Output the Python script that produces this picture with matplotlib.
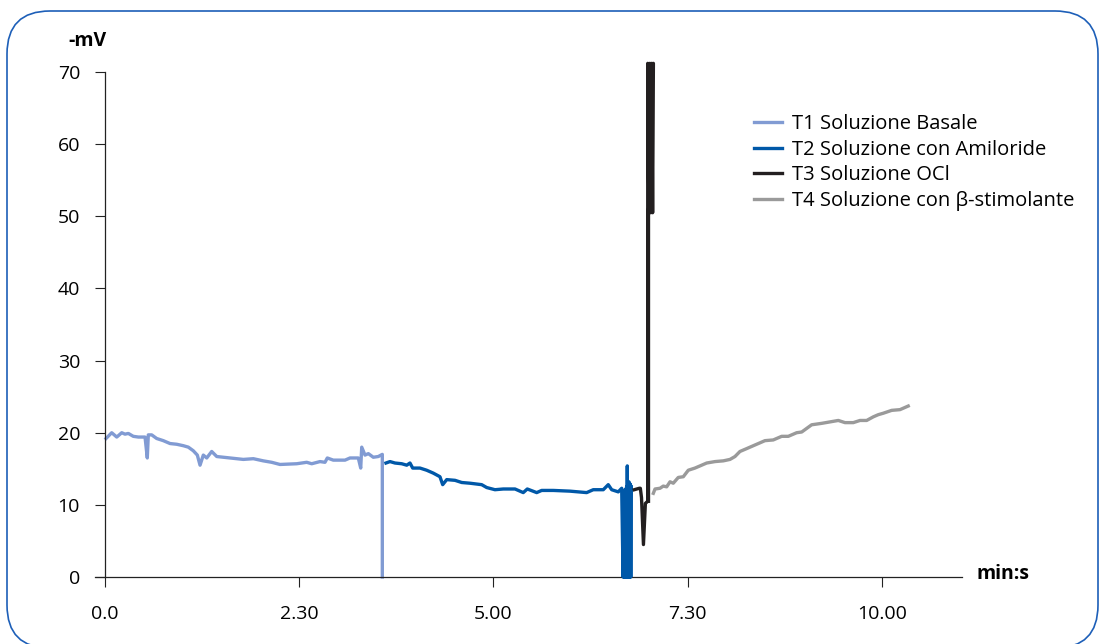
import matplotlib
matplotlib.use("Agg")
import matplotlib.pyplot as plt
from matplotlib.patches import FancyBboxPatch
from matplotlib.transforms import IdentityTransform

# ---------- data (time in minutes, potential in -mV) ----------
t1_x = [0.013, 0.086, 0.151, 0.215, 0.257, 0.300, 0.364, 0.429, 0.515, 0.544,
        0.557, 0.601, 0.665, 0.750, 0.837, 0.923, 1.008, 1.072, 1.136, 1.188,
        1.223, 1.265, 1.309, 1.373, 1.438, 1.609, 1.780, 1.909, 2.037, 2.145,
        2.252, 2.467, 2.596, 2.660, 2.767, 2.831, 2.861, 2.938, 3.089, 3.153,
        3.260, 3.291, 3.304, 3.346, 3.389, 3.453, 3.517, 3.569, 3.569]
t1_y = [19.2, 20.0, 19.4, 20.0, 19.8, 19.9, 19.5, 19.4, 19.4, 16.5,
        19.7, 19.7, 19.2, 18.9, 18.5, 18.4, 18.2, 18.0, 17.5, 16.9,
        15.5, 16.9, 16.5, 17.4, 16.7, 16.5, 16.3, 16.4, 16.1, 15.9,
        15.6, 15.7, 15.9, 15.7, 16.0, 15.9, 16.5, 16.2, 16.2, 16.5,
        16.5, 15.1, 18.0, 16.9, 17.1, 16.6, 16.7, 17.0, 0.0]

t2_x = [3.616, 3.668, 3.732, 3.819, 3.883, 3.925, 3.960, 4.054, 4.140, 4.225,
        4.311, 4.346, 4.398, 4.505, 4.591, 4.698, 4.848, 4.913, 5.019, 5.126,
        5.277, 5.383, 5.435, 5.556, 5.620, 5.770, 5.985, 6.199, 6.284, 6.413,
        6.477, 6.521, 6.606, 6.650,
        6.668, 6.673, 6.678, 6.683, 6.688, 6.693, 6.698, 6.703, 6.708, 6.713,
        6.717, 6.722, 6.727, 6.732, 6.737, 6.742, 6.747, 6.752, 6.757, 6.762,
        6.767, 6.773]
t2_y = [15.8, 16.0, 15.8, 15.7, 15.5, 15.8, 15.1, 15.1, 14.8, 14.4,
        13.9, 12.8, 13.5, 13.4, 13.1, 13.0, 12.8, 12.4, 12.1, 12.2,
        12.2, 11.7, 12.2, 11.7, 12.0, 12.0, 11.9, 11.7, 12.1, 12.1,
        12.8, 12.1, 11.8, 12.3,
        0.0, 12.0, 0.0, 12.0, 0.0, 12.0, 0.0, 12.2, 0.0, 12.5,
        0.0, 15.4, 0.0, 13.0, 0.0, 13.2, 0.0, 13.0, 0.0, 12.8,
        0.0, 12.5]

t3_x = [6.812, 6.877, 6.890, 6.905, 6.930, 6.955, 6.985, 6.985, 7.000, 7.012,
        7.024, 7.036, 7.048, 7.058, 6.995, 6.995]
t3_y = [12.1, 12.3, 12.3, 11.0, 4.5, 10.2, 10.5, 71.2, 50.5, 71.2,
        50.5, 71.2, 50.5, 71.2, 50.5, 10.5]

t4_x = [7.057, 7.079, 7.143, 7.185, 7.229, 7.272, 7.314, 7.378, 7.443, 7.507,
        7.593, 7.658, 7.744, 7.851, 7.958, 8.044, 8.108, 8.172, 8.259, 8.344,
        8.430, 8.494, 8.601, 8.709, 8.794, 8.902, 8.967, 9.031, 9.095, 9.224,
        9.331, 9.438, 9.524, 9.631, 9.717, 9.803, 9.888, 9.952, 10.016, 10.125,
        10.232, 10.338]
t4_y = [11.6, 12.2, 12.3, 12.6, 12.5, 13.2, 13.0, 13.8, 13.9, 14.8,
        15.1, 15.4, 15.8, 16.0, 16.1, 16.3, 16.7, 17.4, 17.8, 18.2,
        18.6, 18.9, 19.0, 19.5, 19.5, 20.0, 20.1, 20.6, 21.1, 21.3,
        21.5, 21.7, 21.4, 21.4, 21.7, 21.7, 22.2, 22.5, 22.7, 23.1,
        23.2, 23.7]

labels = ["T1 Soluzione Basale", "T2 Soluzione con Amiloride",
          "T3 Soluzione OCl", "T4 Soluzione con β-stimolante"]
colors = ["#819bd3", "#0058a8", "#231f20", "#9a9a9a"]

x_ticks = [0, 2.5, 5, 7.5, 10]
x_ticklabels = ["0.0", "2.30", "5.00", "7.30", "10.00"]
y_ticks = [0, 10, 20, 30, 40, 50, 60, 70]

plt.rcParams["font.family"] = ["Open Sans", "DejaVu Sans"]
plt.rcParams["font.size"] = 14

W, H = 1101, 644
fig = plt.figure(figsize=(W / 100, H / 100), dpi=100)
ax = fig.add_axes([95 / W, 1 - 577 / H, (962 - 95) / W, (577 - 57.6) / H])

series = [(t1_x, t1_y), (t2_x, t2_y), (t3_x, t3_y), (t4_x, t4_y)]
for (xs, ys), lab, c, z in zip(series, labels, colors, [2, 3, 4, 2]):
    ax.plot(xs, ys, color=c, lw=2.4, label=lab, zorder=z, clip_on=False)

ax.set_xlim(-0.129, 11.03)
ax.set_ylim(0, 72)

for s in ["top", "right"]:
    ax.spines[s].set_visible(False)
ax.spines["left"].set_position(("data", 0))
ax.spines["left"].set_bounds(0, 70)
for s in ["left", "bottom"]:
    ax.spines[s].set_linewidth(0.9)
    ax.spines[s].set_color("#222222")

ax.set_xticks(x_ticks)
ax.set_xticklabels(x_ticklabels)
ax.set_yticks(y_ticks)
ax.tick_params(axis="x", direction="out", length=7, width=0.8, pad=13,
               colors="#222222", labelcolor="black")
ax.tick_params(axis="y", direction="out", length=7, width=0.8, pad=11,
               colors="#222222", labelcolor="black")

fig.text(87 / W, 1 - 41 / H, "-mV", ha="center", va="center",
         fontweight="bold")
fig.text(977 / W, 1 - 574 / H, "min:s", ha="left", va="center",
         fontweight="bold")

ax.legend(loc="upper left", bbox_to_anchor=(754 / W, 1 - 114 / H),
          bbox_transform=fig.transFigure, frameon=False, borderpad=0,
          borderaxespad=0, handlelength=1.4, handletextpad=0.48,
          labelspacing=0.28, fontsize=14.5)

# rounded frame around the whole chart
frame = FancyBboxPatch((7, -4), 1091, 637,
                       boxstyle="round,pad=0,rounding_size=43",
                       transform=IdentityTransform(), fill=False,
                       edgecolor="#1d5fb8", linewidth=1.2)
fig.add_artist(frame)

fig.savefig("out.png", dpi=100)
